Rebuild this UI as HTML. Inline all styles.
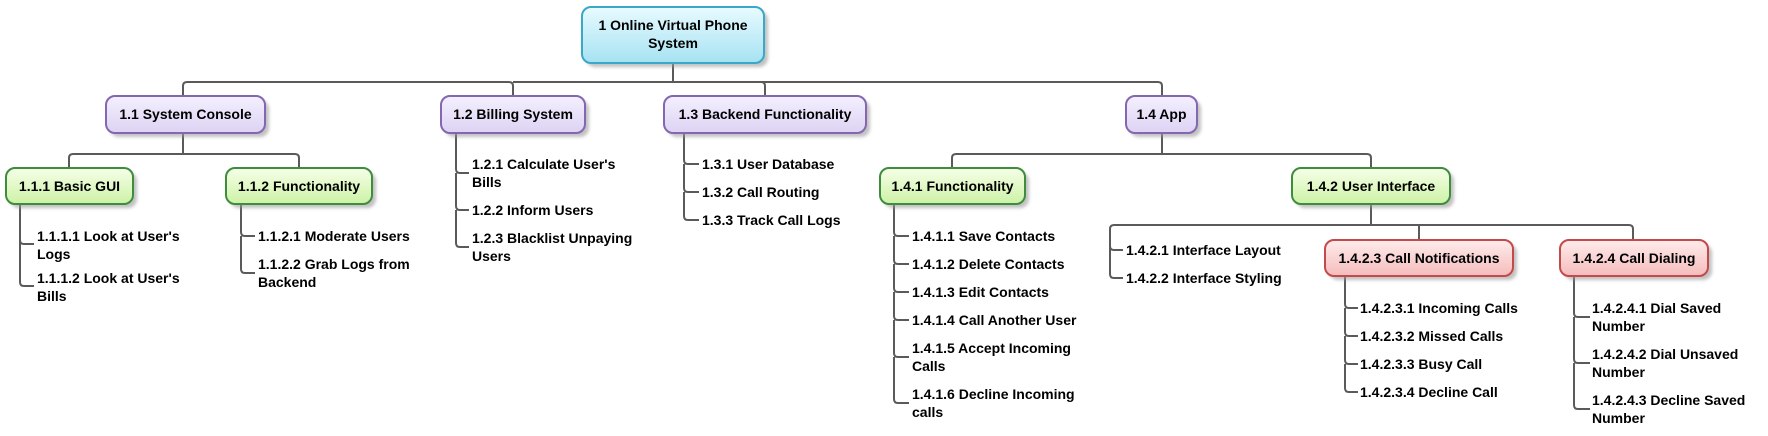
<!DOCTYPE html>
<html><head><meta charset="utf-8"><style>
html,body{margin:0;padding:0;background:#fff;}
svg{display:block;}
text{font-family:"Liberation Sans",Arial,sans-serif;font-weight:bold;font-size:14px;fill:#000;}
.l{fill:none;stroke:#5a5a5a;stroke-width:2;}
</style></head><body>
<svg width="1768" height="436" viewBox="0 0 1768 436" xmlns="http://www.w3.org/2000/svg">
<defs>
<linearGradient id="gc" x1="0" y1="0" x2="0" y2="1"><stop offset="0" stop-color="#e8fbff"/><stop offset="1" stop-color="#a6e2f2"/></linearGradient>
<linearGradient id="gp" x1="0" y1="0" x2="0" y2="1"><stop offset="0" stop-color="#f4f0ff"/><stop offset="1" stop-color="#ddd3f3"/></linearGradient>
<linearGradient id="gg" x1="0" y1="0" x2="0" y2="1"><stop offset="0" stop-color="#f6ffe8"/><stop offset="1" stop-color="#cdf2a6"/></linearGradient>
<linearGradient id="gr" x1="0" y1="0" x2="0" y2="1"><stop offset="0" stop-color="#ffecec"/><stop offset="1" stop-color="#f5bcbc"/></linearGradient>
<filter id="sh" x="-10%" y="-20%" width="130%" height="160%"><feGaussianBlur stdDeviation="1.5"/></filter>
</defs>

<!-- connectors -->
<path class="l" d="M673 63V82 M183 96V86q0-4 4-4H509q4 0 4 4v10 M765 96V86q0-4-4-4H513 M1162 96V86q0-4-4-4H673"/>
<path class="l" d="M183 133V154 M69 168V158q0-4 4-4H295q4 0 4 4v10"/>
<path class="l" d="M20 204V240q0 4 4 4H34 M20 240V282q0 4 4 4H34"/>
<path class="l" d="M241 204V232q0 4 4 4H255 M241 236V269q0 4 4 4H255"/>
<path class="l" d="M456 133V169q0 4 4 4H469 M456 173V206q0 4 4 4H469 M456 210V243q0 4 4 4H469"/>
<path class="l" d="M684 133V160q0 4 4 4H699 M684 164V188q0 4 4 4H699 M684 192V216q0 4 4 4H699"/>
<path class="l" d="M1162 133V154 M952 168V158q0-4 4-4H1367q4 0 4 4v10"/>
<path class="l" d="M894 204V232q0 4 4 4H909 M894 236V260q0 4 4 4H909 M894 264V288q0 4 4 4H909 M894 292V316q0 4 4 4H909 M894 320V353q0 4 4 4H909 M894 357V399q0 4 4 4H909"/>
<path class="l" d="M1371 204V225 M1110 250V229q0-4 4-4H1629q4 0 4 4v11 M1419 240V225"/>
<path class="l" d="M1110 246V246q0 4 4 4H1123 M1110 250V274q0 4 4 4H1123"/>
<path class="l" d="M1345 276V304q0 4 4 4H1358 M1345 308V332q0 4 4 4H1358 M1345 336V360q0 4 4 4H1358 M1345 364V388q0 4 4 4H1358"/>
<path class="l" d="M1574 276V313q0 4 4 4H1590 M1574 317V359q0 4 4 4H1590 M1574 363V405q0 4 4 4H1590"/>

<!-- boxes -->
<g>
<rect x="586" y="11" width="182" height="56" rx="9" fill="#999" opacity="0.6" filter="url(#sh)"/>
<rect x="582" y="7" width="182" height="56" rx="9" fill="url(#gc)" stroke="#3ba7c9" stroke-width="2"/>
<text x="673" y="30" text-anchor="middle">1 Online Virtual Phone</text>
<text x="673" y="48" text-anchor="middle">System</text>
</g>
<g>
<rect x="110" y="100" width="159" height="37" rx="9" fill="#999" opacity="0.6" filter="url(#sh)"/>
<rect x="106" y="96" width="159" height="37" rx="9" fill="url(#gp)" stroke="#8566b0" stroke-width="2"/>
<text x="185.5" y="119" text-anchor="middle">1.1 System Console</text>
<rect x="445" y="100" width="144" height="37" rx="9" fill="#999" opacity="0.6" filter="url(#sh)"/>
<rect x="441" y="96" width="144" height="37" rx="9" fill="url(#gp)" stroke="#8566b0" stroke-width="2"/>
<text x="513" y="119" text-anchor="middle">1.2 Billing System</text>
<rect x="668" y="100" width="202" height="37" rx="9" fill="#999" opacity="0.6" filter="url(#sh)"/>
<rect x="664" y="96" width="202" height="37" rx="9" fill="url(#gp)" stroke="#8566b0" stroke-width="2"/>
<text x="765" y="119" text-anchor="middle">1.3 Backend Functionality</text>
<rect x="1130" y="100" width="71" height="37" rx="9" fill="#999" opacity="0.6" filter="url(#sh)"/>
<rect x="1126" y="96" width="71" height="37" rx="9" fill="url(#gp)" stroke="#8566b0" stroke-width="2"/>
<text x="1161.5" y="119" text-anchor="middle">1.4 App</text>
</g>
<g>
<rect x="10" y="172" width="127" height="36" rx="9" fill="#999" opacity="0.6" filter="url(#sh)"/>
<rect x="6" y="168" width="127" height="36" rx="9" fill="url(#gg)" stroke="#3e8c3e" stroke-width="2"/>
<text x="69.5" y="191" text-anchor="middle">1.1.1 Basic GUI</text>
<rect x="230" y="172" width="146" height="36" rx="9" fill="#999" opacity="0.6" filter="url(#sh)"/>
<rect x="226" y="168" width="146" height="36" rx="9" fill="url(#gg)" stroke="#3e8c3e" stroke-width="2"/>
<text x="299" y="191" text-anchor="middle">1.1.2 Functionality</text>
<rect x="884" y="172" width="145" height="36" rx="9" fill="#999" opacity="0.6" filter="url(#sh)"/>
<rect x="880" y="168" width="145" height="36" rx="9" fill="url(#gg)" stroke="#3e8c3e" stroke-width="2"/>
<text x="952.5" y="191" text-anchor="middle">1.4.1 Functionality</text>
<rect x="1296" y="172" width="158" height="36" rx="9" fill="#999" opacity="0.6" filter="url(#sh)"/>
<rect x="1292" y="168" width="158" height="36" rx="9" fill="url(#gg)" stroke="#3e8c3e" stroke-width="2"/>
<text x="1371" y="191" text-anchor="middle">1.4.2 User Interface</text>
</g>
<g>
<rect x="1329" y="244" width="188" height="36" rx="9" fill="#999" opacity="0.6" filter="url(#sh)"/>
<rect x="1325" y="240" width="188" height="36" rx="9" fill="url(#gr)" stroke="#c24a4a" stroke-width="2"/>
<text x="1419" y="263" text-anchor="middle">1.4.2.3 Call Notifications</text>
<rect x="1564" y="244" width="148" height="36" rx="9" fill="#999" opacity="0.6" filter="url(#sh)"/>
<rect x="1560" y="240" width="148" height="36" rx="9" fill="url(#gr)" stroke="#c24a4a" stroke-width="2"/>
<text x="1634" y="263" text-anchor="middle">1.4.2.4 Call Dialing</text>
</g>

<!-- leaf texts -->
<text x="37" y="241">1.1.1.1 Look at User's</text>
<text x="37" y="259">Logs</text>
<text x="37" y="283">1.1.1.2 Look at User's</text>
<text x="37" y="301">Bills</text>
<text x="258" y="241">1.1.2.1 Moderate Users</text>
<text x="258" y="269">1.1.2.2 Grab Logs from</text>
<text x="258" y="287">Backend</text>
<text x="472" y="169">1.2.1 Calculate User's</text>
<text x="472" y="187">Bills</text>
<text x="472" y="215">1.2.2 Inform Users</text>
<text x="472" y="243">1.2.3 Blacklist Unpaying</text>
<text x="472" y="261">Users</text>
<text x="702" y="169">1.3.1 User Database</text>
<text x="702" y="197">1.3.2 Call Routing</text>
<text x="702" y="225">1.3.3 Track Call Logs</text>
<text x="912" y="241">1.4.1.1 Save Contacts</text>
<text x="912" y="269">1.4.1.2 Delete Contacts</text>
<text x="912" y="297">1.4.1.3 Edit Contacts</text>
<text x="912" y="325">1.4.1.4 Call Another User</text>
<text x="912" y="353">1.4.1.5 Accept Incoming</text>
<text x="912" y="371">Calls</text>
<text x="912" y="399">1.4.1.6 Decline Incoming</text>
<text x="912" y="417">calls</text>
<text x="1126" y="255">1.4.2.1 Interface Layout</text>
<text x="1126" y="283">1.4.2.2 Interface Styling</text>
<text x="1360" y="313">1.4.2.3.1 Incoming Calls</text>
<text x="1360" y="341">1.4.2.3.2 Missed Calls</text>
<text x="1360" y="369">1.4.2.3.3 Busy Call</text>
<text x="1360" y="397">1.4.2.3.4 Decline Call</text>
<text x="1592" y="313">1.4.2.4.1 Dial Saved</text>
<text x="1592" y="331">Number</text>
<text x="1592" y="359">1.4.2.4.2 Dial Unsaved</text>
<text x="1592" y="377">Number</text>
<text x="1592" y="405">1.4.2.4.3 Decline Saved</text>
<text x="1592" y="423">Number</text>
</svg>
</body></html>
